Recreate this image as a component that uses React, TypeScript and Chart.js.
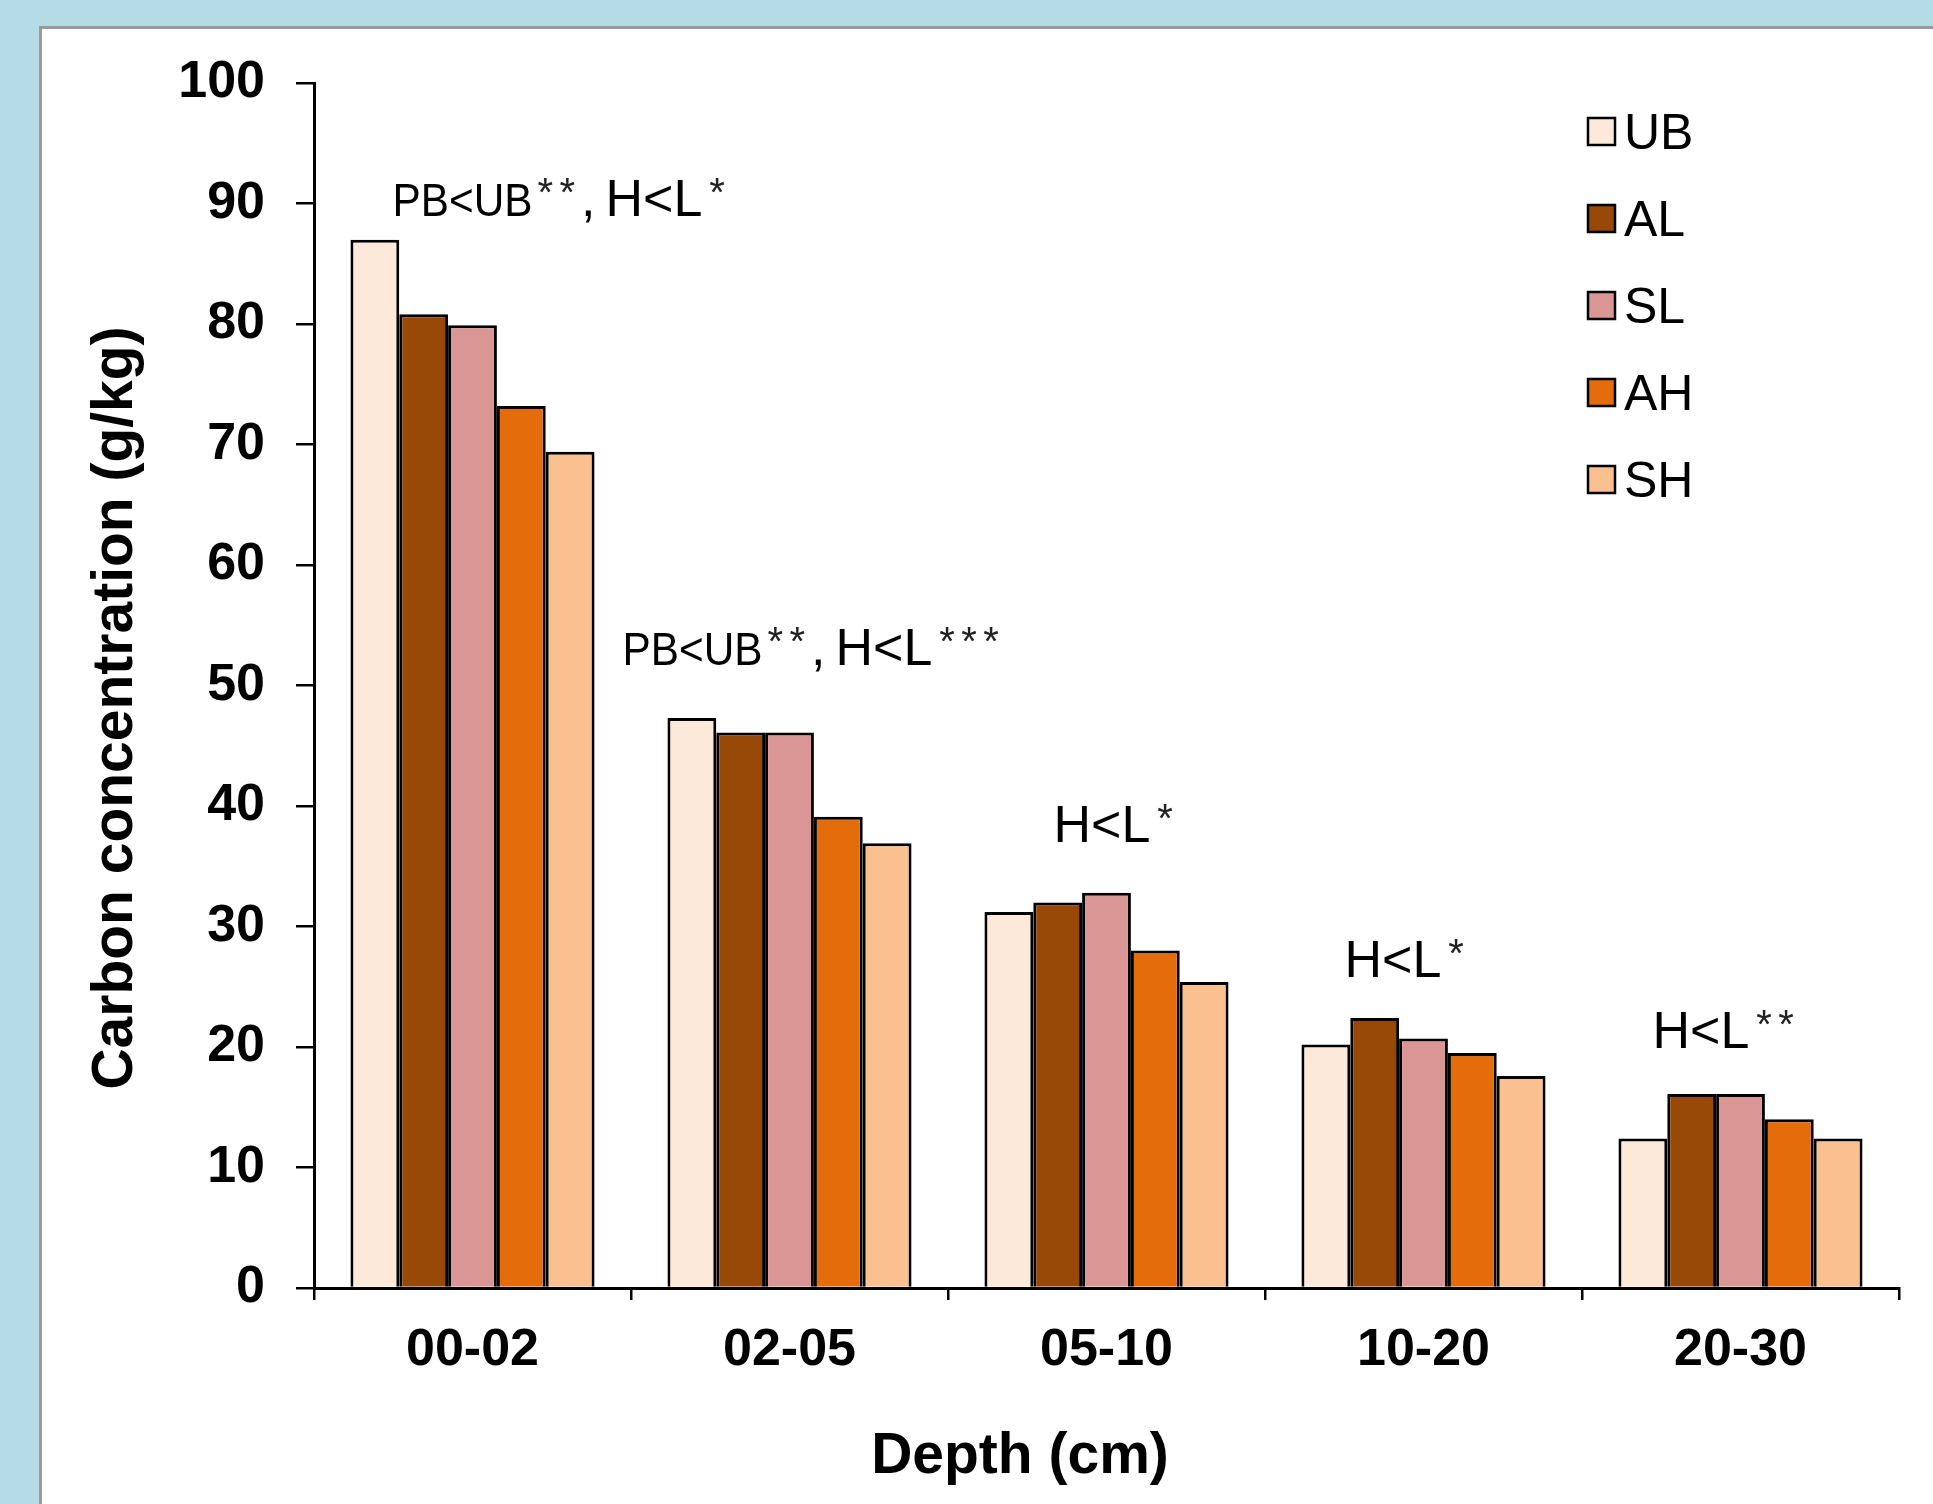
import React, { useEffect, useRef } from 'react';
import { Chart, registerables } from 'chart.js';

Chart.register(...registerables);

// ---- data ----
const CATEGORIES = ['00-02', '02-05', '05-10', '10-20', '20-30'];
const SERIES_LABELS = ['UB', 'AL', 'SL', 'AH', 'SH'];
const UB = [87.0, 47.3, 31.2, 20.2, 12.4];
const AL = [80.8, 46.1, 32.0, 22.4, 16.1];
const SL = [79.9, 46.1, 32.8, 20.7, 16.1];
const AH = [73.2, 39.1, 28.0, 19.5, 14.0];
const SH = [69.4, 36.9, 25.4, 17.6, 12.4];
const SERIES_VALUES = [UB, AL, SL, AH, SH];
const SERIES_COLORS = ['#FDE9D9', '#984807', '#D99694', '#E46C0A', '#FAC090'];
const Y_TICKS_MIN = 0;
const Y_TICKS_MAX = 100;
const Y_STEP = 10;
const X_TITLE = 'Depth (cm)';
const Y_TITLE = 'Carbon concentration (g/kg)';

// significance notes per depth class
const NOTE_PREFIX = ['PB<UB', 'PB<UB', '', '', ''];
const NOTE_PREFIX_STARS = [2, 2, 0, 0, 0];
const NOTE_MAIN = ['H<L', 'H<L', 'H<L', 'H<L', 'H<L'];
const NOTE_MAIN_STARS = [1, 3, 1, 1, 2];
const NOTE_VALUE = [89.0, 51.7, 37.0, 25.8, 19.9];
const NOTE_DX = [-80, -167, -53, -79, -88];

const FONT = "'Liberation Sans', Arial, Helvetica, sans-serif";

function drawStars(ctx: CanvasRenderingContext2D, x: number, y: number, n: number) {
  if (n <= 0) return x;
  ctx.font = `40px ${FONT}`;
  const w = ctx.measureText('*').width;
  for (let i = 0; i < n; i++) ctx.fillText('*', x + i * 22, y - 10);
  return x + (n - 1) * 22 + w;
}

const overlayPlugin = {
  id: 'overlay',
  afterDraw(chart: any) {
    const ctx: CanvasRenderingContext2D = chart.ctx;
    const xs = chart.scales.x;
    const ys = chart.scales.y;
    ctx.save();
    ctx.fillStyle = '#000';
    ctx.textAlign = 'left';
    ctx.textBaseline = 'alphabetic';

    // notes
    for (let i = 0; i < CATEGORIES.length; i++) {
      let x = xs.getPixelForValue(i) + NOTE_DX[i];
      const y = ys.getPixelForValue(NOTE_VALUE[i]);
      if (NOTE_PREFIX[i]) {
        ctx.save();
        ctx.translate(x, y);
        ctx.scale(0.92, 1);
        ctx.font = `46px ${FONT}`;
        ctx.fillText(NOTE_PREFIX[i], 0, 0);
        const w = ctx.measureText(NOTE_PREFIX[i]).width * 0.92;
        ctx.restore();
        x += w + 5;
        ctx.fillStyle = '#222';
        x = drawStars(ctx, x, y, NOTE_PREFIX_STARS[i]);
        ctx.fillStyle = '#000';
        x += 6;
        ctx.font = `52px ${FONT}`;
        ctx.fillText(',', x, y);
        x += ctx.measureText(',').width + 10;
      }
      ctx.font = `52px ${FONT}`;
      ctx.fillText(NOTE_MAIN[i], x, y);
      x += ctx.measureText(NOTE_MAIN[i]).width + 7;
      ctx.fillStyle = '#222';
      drawStars(ctx, x, y, NOTE_MAIN_STARS[i]);
      ctx.fillStyle = '#000';
    }

    // legend
    chart.data.datasets.forEach((ds: any, i: number) => {
      const base = 149 + i * 87;
      ctx.fillStyle = ds.backgroundColor;
      ctx.fillRect(1588, base - 31, 27, 27);
      ctx.strokeStyle = '#000';
      ctx.lineWidth = 2.5;
      ctx.strokeRect(1588, base - 31, 27, 27);
      ctx.fillStyle = '#000';
      ctx.font = `50px ${FONT}`;
      ctx.fillText(ds.label, 1624, base);
    });

    // axis titles
    ctx.font = `bold 57px ${FONT}`;
    ctx.textAlign = 'center';
    ctx.fillText(X_TITLE, 1020, 1473);
    ctx.save();
    ctx.translate(132, 708);
    ctx.rotate(-Math.PI / 2);
    ctx.fillText(Y_TITLE, 0, 0);
    ctx.restore();
    ctx.restore();
  },
};

export default function App() {
  const ref = useRef<HTMLCanvasElement | null>(null);
  useEffect(() => {
    if (!ref.current) return;
    const chart = new Chart(ref.current, {
      type: 'bar',
      data: {
        labels: CATEGORIES,
        datasets: SERIES_LABELS.map((label, i) => ({
          label,
          data: SERIES_VALUES[i],
          backgroundColor: SERIES_COLORS[i],
          borderColor: '#000',
          borderWidth: 3,
          categoryPercentage: 0.77,
          barPercentage: 1.0,
        })),
      },
      options: {
        responsive: false,
        animation: false,
        devicePixelRatio: 1,
        layout: { padding: { top: 83, right: 34, bottom: 0, left: 0 } },
        plugins: { legend: { display: false }, tooltip: { enabled: false }, title: { display: false } },
        scales: {
          x: {
            grid: { display: true, drawOnChartArea: false, drawTicks: true, tickLength: 12, color: '#000', lineWidth: 2.5, offset: true },
            border: { display: true, color: '#000', width: 3 },
            ticks: { color: '#000', font: { family: FONT, size: 52, weight: 'bold' }, padding: 19, maxRotation: 0 },
            afterFit: (s: any) => { s.height = 216; },
          },
          y: {
            min: Y_TICKS_MIN,
            max: Y_TICKS_MAX,
            grid: { display: true, drawOnChartArea: false, drawTicks: true, tickLength: 18, color: '#000', lineWidth: 2.5 },
            border: { display: true, color: '#000', width: 3 },
            ticks: { stepSize: Y_STEP, color: '#000', font: { family: FONT, size: 52, weight: 'bold' }, padding: 31 },
            afterFit: (s: any) => { s.width = 314; },
          },
        },
      },
      plugins: [overlayPlugin],
    } as any);
    return () => chart.destroy();
  }, []);

  return (
    <div style={{ position: 'absolute', left: 0, top: 0, width: 1933, height: 1504, background: '#b5dbe6', overflow: 'hidden' }}>
      <div style={{ position: 'absolute', left: 39, top: 26, width: 1960, height: 1560, background: '#fff', border: '3px solid #9a9a9a', boxSizing: 'border-box' }} />
      <canvas ref={ref} width={1933} height={1504} style={{ position: 'absolute', left: 0, top: 0, width: 1933, height: 1504 }} />
    </div>
  );
}
